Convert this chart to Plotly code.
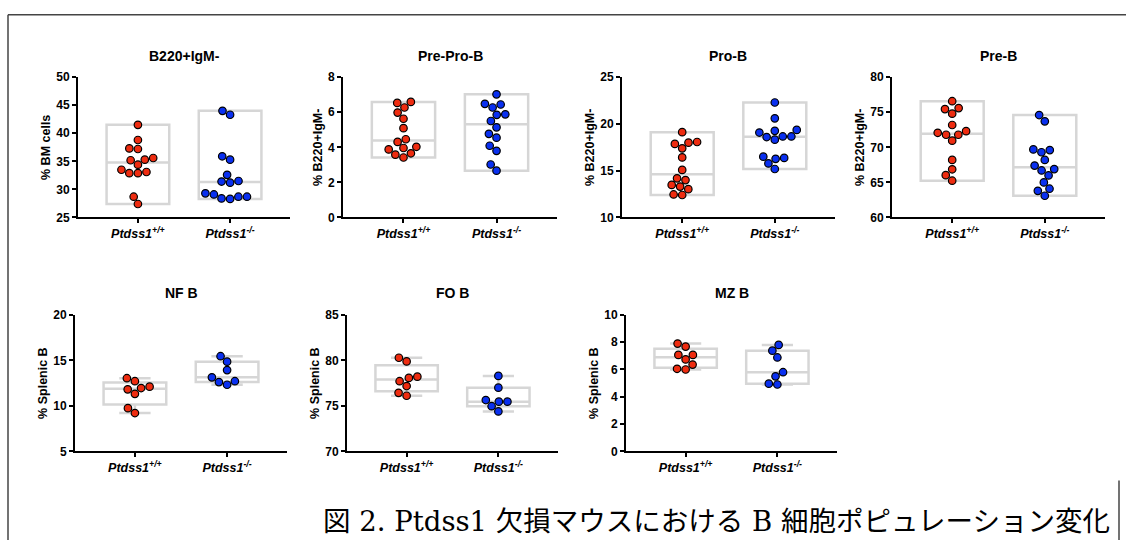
import math
import numpy as np
import plotly.graph_objects as go

W, H = 1126, 547

# ---------------- data ----------------
titles = ["B220+IgM-", "Pre-Pro-B", "Pro-B", "Pre-B", "NF B", "FO B", "MZ B"]
ylabels = ["% BM cells", "% B220+IgM-", "% B220+IgM-", "% B220+IgM-",
           "% Splenic B", "% Splenic B", "% Splenic B"]
groups = ["Ptdss1<sup>+/+</sup>", "Ptdss1<sup>-/-</sup>"]

b220_wt = [41.5, 38.8, 37.3, 37.2, 35.6, 35.2, 35.3, 34.4, 33.5, 32.9, 32.9, 33.1, 28.7, 27.4]
b220_ko = [44.0, 43.3, 35.3, 35.9, 32.6, 31.4, 31.2, 31.5, 29.1, 28.7, 28.3, 28.4, 28.7, 29.3]
preprob_wt = [6.53, 6.59, 6.27, 5.98, 5.63, 5.09, 4.46, 4.31, 4.03, 3.96, 3.88, 3.66, 3.58, 3.42]
preprob_ko = [7.02, 6.48, 6.44, 6.27, 5.85, 5.88, 5.50, 5.14, 4.77, 4.55, 4.09, 3.80, 3.02, 2.67]
prob_wt = [19.12, 18.0, 17.86, 18.07, 17.39, 16.42, 15.08, 14.0, 14.18, 13.03, 13.48, 13.3, 12.4, 12.46]
prob_ko = [22.29, 20.6, 19.08, 19.36, 19.26, 18.66, 18.32, 18.6, 18.66, 16.37, 16.27, 16.5, 15.78, 15.18]
preb_wt = [76.57, 75.45, 75.59, 74.8, 73.18, 72.07, 72.3, 71.79, 71.79, 70.95, 68.21, 66.87, 66.03, 65.24]
preb_ko = [74.6, 73.7, 69.7, 69.6, 69.3, 68.2, 67.4, 66.7, 66.9, 66.0, 65.0, 64.1, 63.8, 63.1]
nfb_wt = [13.04, 12.71, 12.11, 11.82, 11.96, 11.32, 9.75, 9.21]
nfb_ko = [15.46, 14.86, 13.93, 12.71, 13.14, 12.32, 12.61]
fob_wt = [80.29, 79.89, 78.21, 78.07, 77.71, 77.18, 76.43, 76.11]
fob_ko = [78.29, 77.0, 75.46, 75.46, 75.64, 74.96, 74.39]
mzb_wt = [7.9, 7.68, 7.07, 7.07, 6.74, 6.36, 6.0, 6.05]
mzb_ko = [7.8, 7.38, 6.88, 5.8, 5.5, 4.9, 4.96]

wt_sets = [b220_wt, preprob_wt, prob_wt, preb_wt, nfb_wt, fob_wt, mzb_wt]
ko_sets = [b220_ko, preprob_ko, prob_ko, preb_ko, nfb_ko, fob_ko, mzb_ko]
yranges = [(25, 50), (0, 8), (10, 25), (60, 80), (5, 20), (70, 85), (0, 10)]
dticks = [5, 2, 5, 5, 5, 5, 2]
# top row: floating bars min-max with median; bottom row: box & whiskers
minmax_style = [True, True, True, True, False, False, False]

caption = "図 2. Ptdss1 欠損マウスにおける B 細胞ポピュレーション変化"

# ---------------- layout geometry (pixels) ----------------
panels = [(78, 290, 72, 216), (343, 557, 72, 216), (622, 835, 72, 216), (892, 1105, 72, 216),
          (75, 287, 316, 456), (347, 558, 316, 456), (626, 837, 316, 456)]
XR = (-0.65, 1.65)
RED = "#EE2C10"
BLUE = "#0A30F0"
BOXC = "#D6D6D6"
FONT = "Arial, Liberation Sans, sans-serif"
D = 8.6  # swarm spacing in px


def swarm(vals, px_per_unit):
    order = sorted(range(len(vals)), key=lambda i: vals[i])
    placed = []
    xs = [0.0] * len(vals)
    for i in order:
        y = vals[i] * px_per_unit
        cands = [0.0]
        for (px, py) in placed:
            dy = abs(y - py)
            if dy < D:
                dx = math.sqrt(D * D - dy * dy)
                cands += [px + dx, px - dx]
        cands.sort(key=lambda c: (round(abs(c), 6), c))
        for c in cands:
            if all((c - px) ** 2 + (y - py) ** 2 >= D * D - 1e-6 for px, py in placed):
                xs[i] = c
                placed.append((c, y))
                break
    return xs


fig = go.Figure()
layout = dict(width=W, height=H, margin=dict(l=0, r=0, t=0, b=0),
              paper_bgcolor="white", plot_bgcolor="white", showlegend=False,
              annotations=[], shapes=[])

for k in range(7):
    x0, x1, y0, y1 = panels[k]
    sfx = "" if k == 0 else str(k + 1)
    xa, ya = "x" + sfx, "y" + sfx
    lo, hi = yranges[k]
    ppu_y = (y1 - y0) / (hi - lo)
    upp_x = (XR[1] - XR[0]) / (x1 - x0)
    for g, (vals, col) in enumerate([(wt_sets[k], RED), (ko_sets[k], BLUE)]):
        v = np.array(vals, dtype=float)
        if minmax_style[k]:
            q1, med, q3 = v.min(), float(np.median(v)), v.max()
            lf, uf = q1, q3
        else:
            q1, med, q3 = np.percentile(v, [25, 50, 75], method="weibull")
            lf, uf = v.min(), v.max()
        fig.add_trace(go.Box(x=[g], q1=[q1], median=[med], q3=[q3], lowerfence=[lf],
                             upperfence=[uf], width=0.68, whiskerwidth=0.5,
                             line=dict(color=BOXC, width=2.5), fillcolor="rgba(0,0,0,0)",
                             boxpoints=False, xaxis=xa, yaxis=ya, hoverinfo="skip"))
        offs = swarm(list(v), ppu_y)
        fig.add_trace(go.Scatter(x=[g + o * upp_x for o in offs], y=list(v), mode="markers",
                                 marker=dict(size=7.5, color=col, line=dict(color="black", width=1.2)),
                                 xaxis=xa, yaxis=ya, hoverinfo="skip"))
    axis_common = dict(showgrid=False, zeroline=False, showline=True, linecolor="black",
                       linewidth=2, ticks="outside", ticklen=4, tickwidth=1.5, tickcolor="black")
    layout["xaxis" + sfx] = dict(axis_common, domain=[x0 / W, x1 / W], range=list(XR),
                                 anchor=ya, tickvals=[0, 1], ticktext=groups,
                                 tickfont=dict(family=FONT, size=12.5, color="black",
                                               weight="bold", style="italic"))
    layout["yaxis" + sfx] = dict(axis_common, domain=[1 - y1 / H, 1 - y0 / H], range=[lo, hi],
                                 anchor=xa, dtick=dticks[k], tick0=lo,
                                 tickfont=dict(family=FONT, size=12, color="black", weight="bold"),
                                 title=dict(text=ylabels[k], standoff=3,
                                            font=dict(family=FONT, size=12.5, color="black",
                                                      weight="bold")))
    layout["annotations"].append(dict(text=titles[k], x=(x0 + x1) / 2 / W,
                                      y=1 - (50 if k < 4 else 293) / H,
                                      xref="paper", yref="paper", showarrow=False,
                                      xanchor="center", yanchor="middle",
                                      font=dict(family=FONT, size=14, color="black", weight="bold")))

layout["annotations"].append(dict(text=caption, x=1112 / W, y=1 - 527 / H, xref="paper", yref="paper",
                                  showarrow=False, xanchor="right", yanchor="middle",
                                  font=dict(family="DejaVu Serif, Noto Sans CJK JP, serif",
                                            size=27.5, color="black")))
frame = dict(type="line", xref="paper", yref="paper", line=dict(color="#444444", width=1.5))
layout["shapes"] += [
    dict(frame, x0=8 / W, x1=1, y0=1 - 8 / H, y1=1 - 8 / H),
    dict(frame, x0=8 / W, x1=8 / W, y0=1 - 8 / H, y1=0),
    dict(frame, x0=1119 / W, x1=1119 / W, y0=1 - 486 / H, y1=0),
]

fig.update_layout(**layout)
fig.write_html("out.html", config={"displayModeBar": False},
               post_script="document.body.style.margin='0';document.body.style.overflow='hidden';")
